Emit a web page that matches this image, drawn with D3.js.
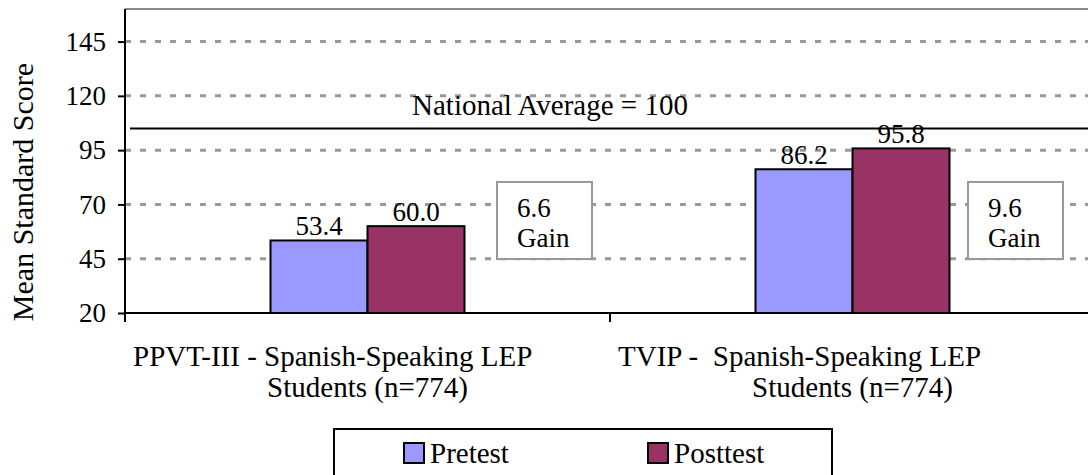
<!DOCTYPE html>
<html>
<head>
<meta charset="utf-8">
<script src="https://cdn.jsdelivr.net/npm/d3@7"></script>
</head>
<body style="margin:0">
<svg id="chart" width="1088" height="475"></svg>
<script>
const categories = [
  ["PPVT-III - Spanish-Speaking LEP", "Students (n=774)"],
  ["TVIP -  Spanish-Speaking LEP", "Students (n=774)"],
];
const seriesNames = ["Pretest", "Posttest"];
const pretest = [53.4, 86.2];
const posttest = [60.0, 95.8];
const yTicks = [20, 45, 70, 95, 120, 145];
const nationalLabel = "National Average = 100";
const nationalLineValue = 105;

const FONT = '"Liberation Serif"';
const COLORS = ["#9999ff", "#993366"];
const WIDTH = 1088;
const LEFT = 125;
const RIGHT = 1095;
const TOP = 9;
const BOTTOM = 313;

const svg = d3.select("#chart");

const yScale = d3.scaleLinear().domain([20, 160]).range([BOTTOM, TOP]);
const xScale = d3
  .scaleBand()
  .domain(d3.range(categories.length))
  .range([LEFT, RIGHT]);
const groupWidth = xScale.bandwidth() * 0.4;
const xSub = d3
  .scaleBand()
  .domain(seriesNames)
  .range([-groupWidth / 2, groupWidth / 2]);

// top frame line
svg
  .append("line")
  .attr("x1", LEFT)
  .attr("x2", WIDTH)
  .attr("y1", yScale(160))
  .attr("y2", yScale(160))
  .attr("stroke", "#888")
  .attr("stroke-width", 2);

// dashed gridlines
svg
  .append("g")
  .selectAll("line")
  .data(yTicks.slice(1))
  .enter()
  .append("line")
  .attr("x1", LEFT)
  .attr("x2", RIGHT)
  .attr("y1", (d) => yScale(d))
  .attr("y2", (d) => yScale(d))
  .attr("stroke", "#999")
  .attr("stroke-width", 3)
  .attr("stroke-dasharray", "6,9");

// national average line
svg
  .append("line")
  .attr("x1", LEFT + 5)
  .attr("x2", RIGHT)
  .attr("y1", yScale(nationalLineValue))
  .attr("y2", yScale(nationalLineValue))
  .attr("stroke", "#000")
  .attr("stroke-width", 2);

svg
  .append("text")
  .attr("x", 550)
  .attr("y", yScale(nationalLineValue) - 13)
  .attr("text-anchor", "middle")
  .style("font-family", FONT)
  .style("font-size", "29px")
  .text(nationalLabel);

// bars
const rows = categories.map((c, i) => ({ i, values: [pretest[i], posttest[i]] }));

const groups = svg
  .append("g")
  .selectAll("g")
  .data(rows)
  .enter()
  .append("g")
  .attr("transform", (d) => `translate(${xScale(d.i) + xScale.bandwidth() / 2},0)`);

groups
  .selectAll("rect")
  .data((d) => d.values)
  .enter()
  .append("rect")
  .attr("x", (d, j) => xSub(seriesNames[j]))
  .attr("y", (d) => yScale(d))
  .attr("width", xSub.bandwidth())
  .attr("height", (d) => yScale(20) - yScale(d))
  .attr("fill", (d, j) => COLORS[j])
  .attr("stroke", "#000")
  .attr("stroke-width", 2);

groups
  .selectAll("text.val")
  .data((d) => d.values)
  .enter()
  .append("text")
  .attr("class", "val")
  .attr("x", (d, j) => xSub(seriesNames[j]) + xSub.bandwidth() / 2)
  .attr("y", (d) => yScale(d) - 5)
  .attr("text-anchor", "middle")
  .style("font-family", FONT)
  .style("font-size", "27px")
  .text((d) => d.toFixed(1));

// gain boxes
const gainBoxX = [497, 968];
const gains = svg
  .append("g")
  .selectAll("g")
  .data(rows)
  .enter()
  .append("g")
  .attr("transform", (d) => `translate(${gainBoxX[d.i]},182)`);

gains
  .append("rect")
  .attr("width", 95)
  .attr("height", 77)
  .attr("fill", "#fff")
  .attr("stroke", "#999")
  .attr("stroke-width", 2);

gains
  .append("text")
  .attr("x", 20)
  .attr("y", 35)
  .style("font-family", FONT)
  .style("font-size", "27px")
  .text((d) => (d.values[1] - d.values[0]).toFixed(1));

gains
  .append("text")
  .attr("x", 20)
  .attr("y", 65)
  .style("font-family", FONT)
  .style("font-size", "27px")
  .text("Gain");

// y axis
const yAxis = svg
  .append("g")
  .attr("transform", `translate(${LEFT},0)`)
  .call(d3.axisLeft(yScale).tickValues(yTicks).tickSize(7).tickPadding(12));
yAxis.select(".domain").remove();
yAxis.attr("font-family", null).attr("font-size", null);
yAxis.selectAll(".tick line").attr("stroke", "#000").attr("stroke-width", 2);
yAxis
  .selectAll(".tick text")
  .style("font-family", FONT)
  .style("font-size", "27px");
yAxis
  .append("line")
  .attr("x1", 0)
  .attr("x2", 0)
  .attr("y1", TOP)
  .attr("y2", BOTTOM + 9)
  .attr("stroke", "#000")
  .attr("stroke-width", 2);

// x axis
svg
  .append("line")
  .attr("x1", LEFT)
  .attr("x2", RIGHT)
  .attr("y1", BOTTOM)
  .attr("y2", BOTTOM)
  .attr("stroke", "#000")
  .attr("stroke-width", 2);

svg
  .append("g")
  .selectAll("line")
  .data(rows)
  .enter()
  .append("line")
  .attr("x1", (d) => xScale(d.i))
  .attr("x2", (d) => xScale(d.i))
  .attr("y1", BOTTOM)
  .attr("y2", BOTTOM + 9)
  .attr("stroke", "#000")
  .attr("stroke-width", 2);

const catLabels = svg
  .append("g")
  .selectAll("g")
  .data(rows)
  .enter()
  .append("g");

catLabels
  .append("text")
  .attr("x", (d) => xScale(d.i) + 8)
  .attr("y", 366)
  .style("font-family", FONT)
  .style("font-size", "29px")
  .style("white-space", "pre")
  .text((d) => categories[d.i][0]);

catLabels
  .append("text")
  .attr("x", (d) => xScale(d.i) + xScale.bandwidth() / 2)
  .attr("y", 397)
  .attr("text-anchor", "middle")
  .style("font-family", FONT)
  .style("font-size", "29px")
  .text((d) => categories[d.i][1]);

// axis title
svg
  .append("text")
  .attr("transform", "translate(33,192) rotate(-90)")
  .attr("text-anchor", "middle")
  .style("font-family", FONT)
  .style("font-size", "30px")
  .text("Mean Standard Score");

// legend
const legend = svg.append("g").attr("transform", "translate(334,429)");
legend
  .append("rect")
  .attr("width", 498)
  .attr("height", 70)
  .attr("fill", "#fff")
  .attr("stroke", "#000")
  .attr("stroke-width", 2);

const legendX = [70, 314];
const items = legend
  .selectAll("g")
  .data(seriesNames)
  .enter()
  .append("g")
  .attr("transform", (d, i) => `translate(${legendX[i]},14)`);

items
  .append("rect")
  .attr("width", 20)
  .attr("height", 20)
  .attr("fill", (d, i) => COLORS[i])
  .attr("stroke", "#000")
  .attr("stroke-width", 2);

items
  .append("text")
  .attr("x", 26)
  .attr("y", 20)
  .style("font-family", FONT)
  .style("font-size", "29px")
  .text((d) => d);
</script>
</body>
</html>
